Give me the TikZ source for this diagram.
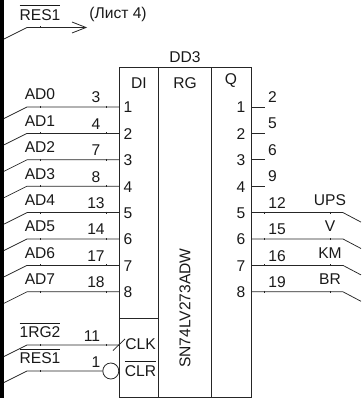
\documentclass[tikz,border=0pt]{standalone}
\usepackage{fontspec}
\setmainfont{Liberation Sans}
\tikzset{
  wire/.style={draw=black!85, line width=0.75pt},
  boxline/.style={draw=black!85, line width=0.8pt},
  txt/.style={inner sep=0pt, font=\fontsize{15.6}{16}\selectfont, text=black!90},
  arrowopen/.style={draw=black!85, line width=0.8pt}
}
\newsavebox{\ovlbox}
\newcommand{\ovl}[1]{\sbox{\ovlbox}{#1}\makebox[0pt][l]{\smash{\raisebox{14pt}{\rule{\wd\ovlbox}{0.9pt}}}}\usebox{\ovlbox}}
\begin{document}
\begin{tikzpicture}[x=1pt,y=-1pt]
\useasboundingbox (0,0) rectangle (361,398);
\fill[black] (0,0) rectangle (4,398);
% chip
\coordinate (tl) at (119,67.5);
\coordinate (br) at (251,397);
\draw[boxline] (tl) rectangle (br);
\draw[boxline] (158,67.5) -- (158,397);
\draw[boxline] (211,67.5) -- (211,397);
\draw[boxline] (119,318) -- (158,318);
\node[txt] (dd) at (185,57) {DD3};
\node[txt] (hdi) at (139,83) {DI};
\node[txt] (hrg) at (185,83) {RG};
\node[txt] (hq) at (231,81) {Q};
\node[txt,rotate=90] (part) at (185,308) {SN74LV273ADW};
% RES1 sheet ref
\coordinate (r0) at (4,39);
\coordinate (r1) at (27,27.5);
\coordinate (r2) at (85,27.5);
\draw[wire] (r0) -- (r1) -- (r2);
\draw[arrowopen] (72,22) -- (86,27.5) -- (72,33);
\draw[wire] (40,26.5) -- (40,28.5);
\node[txt] (rl) at (40,15) {\ovl{RES1}};
\node[txt] (ls) at (118,14) {(Лист 4)};
% left inputs
\foreach \y/\nm/\pin/\num [count=\i] in {107/AD0/3/1,133.4/AD1/4/2,159.8/AD2/7/3,186.2/AD3/8/4,212.6/AD4/13/5,239/AD5/14/6,265.4/AD6/17/7,291.8/AD7/18/8}{
  \coordinate (a\i) at (119,\y);
  \coordinate (b\i) at (27,\y);
  \coordinate (c\i) at (4,\y+11.5);
  \draw[wire] (c\i) -- (b\i) -- (a\i);
  \draw[wire] (40,\y-1) -- (40,\y+1);
  \draw[wire] (106,\y-1) -- (106,\y+1);
  \node[txt] (ln\i) at (40,\y-12.5) {\nm};
  \node[txt] (lp\i) at (96,\y-9.5) {\pin};
  \node[txt] (ld\i) at (128,\y+0.5) {\num};
}
% CLK
\coordinate (ck0) at (4,356.5);
\coordinate (ck1) at (27,345);
\coordinate (ck2) at (119,345);
\draw[wire] (ck0) -- (ck1) -- (ck2);
\draw[wire] (113,350.5) -- (125,339);
\draw[wire] (40,344) -- (40,346);
\draw[wire] (106,344) -- (106,346);
\node[txt] (lck) at (40,332.5) {\ovl{1RG2}};
\node[txt] (pck) at (92,336) {11};
\node[txt] (tck) at (140.5,344.5) {CLK};
% CLR
\coordinate (cl0) at (4,382.5);
\coordinate (cl1) at (27,371);
\node[circle,draw=black!85,line width=0.8pt,minimum size=16pt,inner sep=0pt] (bub) at (110.8,371) {};
\draw[wire] (cl0) -- (cl1) -- (bub.west);
\draw[wire] (40,370) -- (40,372);
\node[txt] (lcl) at (40,358.5) {\ovl{RES1}};
\node[txt] (pcl) at (96,362) {1};
\node[txt] (tcl) at (140.5,371) {\ovl{CLR}};
% right outputs stubs
\foreach \y/\num/\pin [count=\i] in {107/1/2,133.4/2/5,159.8/3/6,186.2/4/9}{
  \coordinate (q\i) at (251,\y);
  \coordinate (s\i) at (264.5,\y);
  \draw[wire] (q\i) -- (s\i);
  \node[txt] (qd\i) at (241,\y+0.5) {\num};
  \node[txt] (qp\i) at (272.5,\y-10) {\pin};
}
% right outputs long
\foreach \y/\num/\pin/\nm [count=\i] in {212.6/5/12/UPS,239/6/15/V,265.4/7/16/KM,291.8/8/19/BR}{
  \coordinate (u\i) at (251,\y);
  \coordinate (v\i) at (343,\y);
  \coordinate (w\i) at (361,\y+9.5);
  \draw[wire] (u\i) -- (v\i) -- (w\i);
  \draw[wire] (264,\y-1) -- (264,\y+1);
  \draw[wire] (330,\y-1) -- (330,\y+1);
  \node[txt] (ud\i) at (241,\y+0.5) {\num};
  \node[txt] (up\i) at (277,\y-9.5) {\pin};
  \node[txt] (un\i) at (330,\y-12.5) {\nm};
}
\end{tikzpicture}
\end{document}
